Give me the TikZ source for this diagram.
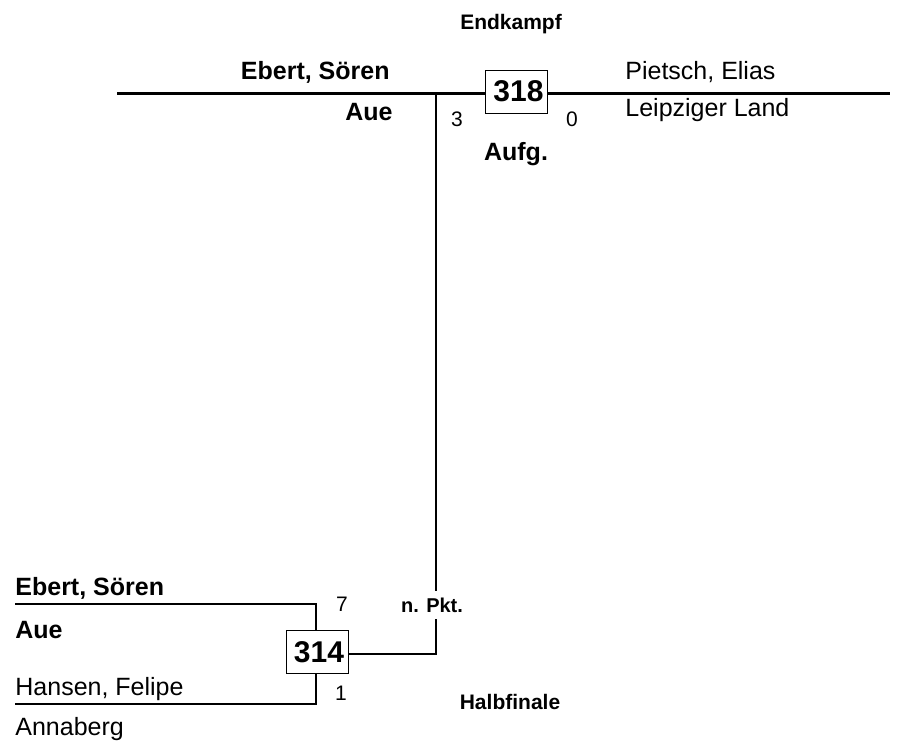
\documentclass[tikz,border=0pt]{standalone}
\usepackage{fontspec}
\setmainfont{Liberation Sans}
\usepackage{xcolor}
\usepackage{tikz}
\usetikzlibrary{shapes,arrows,positioning}

\tikzset{
    player/.style={font=\fontsize{12.5}{14}\selectfont, inner sep=0pt},
    playerbold/.style={inner sep=0pt, font=\fontsize{12.5}{14}\selectfont\bfseries},
    score/.style={font=\fontsize{10.5}{12}\selectfont, inner sep=0pt},
    remark/.style={font=\fontsize{10.5}{12}\selectfont\bfseries, inner sep=0pt},
    matchbox/.style={draw, line width=0.5pt, fill=white,
        inner xsep=2pt, inner ysep=0pt,
        text width=27pt, align=right, minimum height=21.5pt,
        font=\fontsize{15}{17}\selectfont\bfseries},
    bracket/.style={line width=1pt},
}

\begin{document}
\begin{tikzpicture}[x=0.5pt,y=-0.5pt]
    \useasboundingbox (0,0) rectangle (908,740);

    % Endkampf
    \node[remark] (final) at (511,24) {Endkampf};

    \coordinate (top-l) at (117,93);
    \coordinate (top-r) at (890,93);
    \coordinate (top-v) at (436,93);
    \coordinate (low-v) at (436,654);

    \draw[
        line width=1.5pt
    ] (top-l) -- (top-r);

    \node[matchbox] (m318) at (516.5,91.5) {318};

    \node[playerbold, anchor=east] (fin-a) at (390,72) {Ebert, Sören};
    \node[playerbold, anchor=east] (fin-a-club) at (393,112) {Aue};
    \node[player, anchor=west] (fin-b) at (625,72) {Pietsch, Elias};
    \node[player, anchor=west] (fin-b-club) at (625,110) {Leipziger Land};

    \node[score] (fin-sa) at (457,119.5) {3};
    \node[score] (fin-sb) at (572,119.5) {0};
    \node[playerbold] (fin-note) at (516,154) {Aufg.};

    % Halbfinale
    \coordinate (sf-a-l) at (15,604);
    \coordinate (sf-a-r) at (316,604);
    \coordinate (sf-b-l) at (15,704);
    \coordinate (sf-b-r) at (316,704);

    \node[matchbox] (m314) at (317,652) {314};

    \draw[bracket] (sf-a-l) -- (sf-a-r) -- (sf-a-r |- m314.north);
    \draw[bracket] (sf-b-l) -- (sf-b-r) -- (sf-b-r |- m314.south);
    \draw[bracket] (m314.east |- low-v) -- (low-v) -- (top-v);

    \node[playerbold, anchor=west] (sf-a) at (15,588) {Ebert, Sören};
    \node[playerbold, anchor=west] (sf-a-club) at (15,630) {Aue};
    \node[player, anchor=west] (sf-b) at (15,689) {Hansen, Felipe};
    \node[player, anchor=west] (sf-b-club) at (15,729) {Annaberg};

    \node[score] (sf-sa) at (342,604.5) {7};
    \node[score] (sf-sb) at (341,693) {1};
    \node[remark, fill=white, inner ysep=3.5pt, font=\fontsize{10}{12}\selectfont\bfseries] (sf-note) at (432,605) {n. Pkt.};
    \node[remark] (semi) at (510,702) {Halbfinale};
\end{tikzpicture}
\end{document}
